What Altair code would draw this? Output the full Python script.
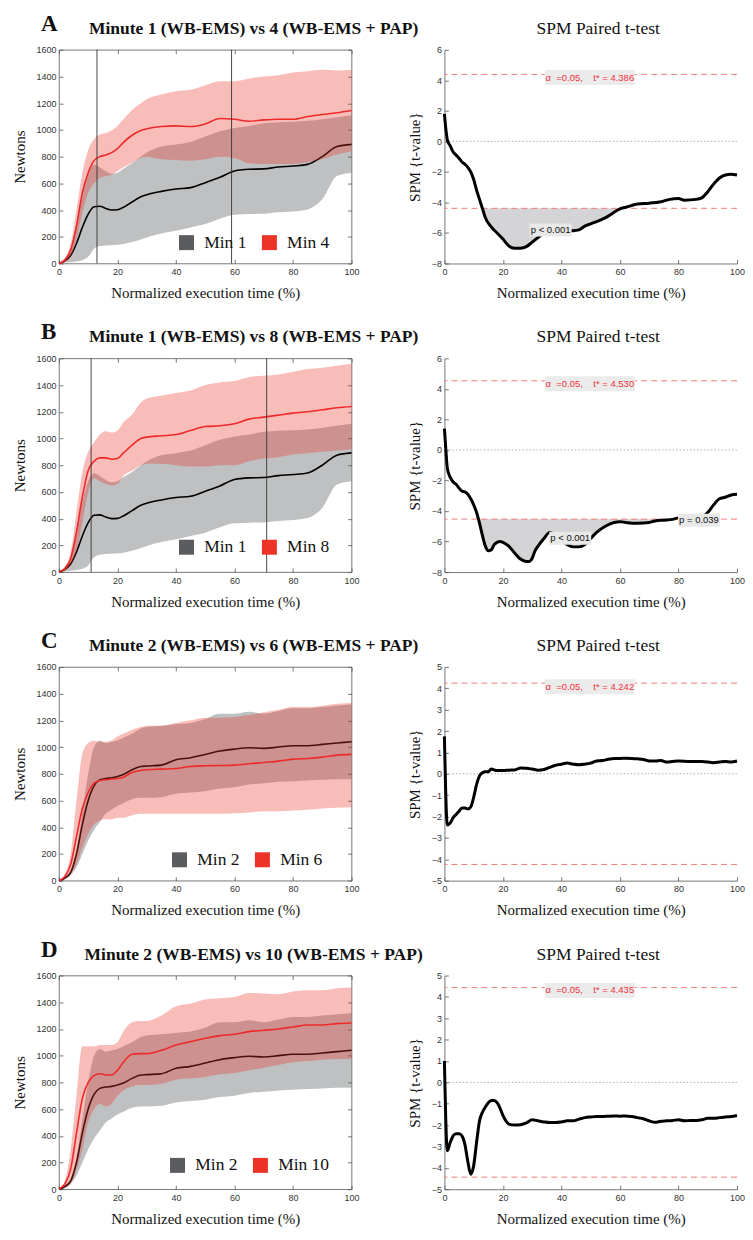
import altair as alt
import pandas as pd

# ---------------- data ----------------
T = [0, 2, 4, 6, 8, 10, 12, 14, 16, 18, 20, 22, 25, 28, 30, 35, 40, 45, 50, 55, 60, 65, 70, 75, 80, 85, 90, 95, 100]

MIN1_MEAN = [0, 20, 60, 150, 270, 370, 425, 428, 412, 400, 402, 420, 460, 500, 515, 540, 558, 568, 605, 645, 693, 705, 708, 722, 730, 742, 800, 875, 892]
MIN1_UP = [0, 40, 110, 300, 520, 680, 740, 720, 690, 672, 680, 710, 750, 800, 830, 875, 890, 910, 950, 990, 1015, 1030, 1050, 1058, 1062, 1068, 1080, 1095, 1110]
MIN1_LO = [0, 5, 10, 15, 25, 50, 110, 130, 135, 137, 140, 145, 160, 180, 195, 225, 245, 270, 295, 335, 365, 370, 372, 383, 390, 405, 480, 655, 680]

MIN4_MEAN = [0, 25, 100, 280, 530, 680, 770, 800, 812, 830, 860, 905, 960, 995, 1008, 1025, 1030, 1025, 1045, 1085, 1080, 1065, 1075, 1080, 1080, 1100, 1115, 1128, 1145]
MIN4_UP = [0, 40, 150, 400, 680, 850, 930, 965, 975, 995, 1030, 1080, 1150, 1200, 1230, 1265, 1290, 1300, 1335, 1365, 1365, 1385, 1400, 1410, 1430, 1440, 1450, 1445, 1450]
MIN4_LO = [0, 10, 50, 180, 380, 530, 600, 640, 655, 665, 690, 720, 755, 790, 800, 780, 775, 770, 780, 800, 790, 750, 745, 745, 745, 760, 780, 815, 840]

MIN8_MEAN = [0, 25, 100, 300, 560, 760, 830, 855, 855, 845, 850, 890, 950, 1000, 1010, 1020, 1030, 1060, 1090, 1095, 1110, 1145, 1160, 1175, 1190, 1200, 1215, 1230, 1240]
MIN8_UP = [0, 40, 150, 450, 750, 900, 970, 1030, 1055, 1045, 1060, 1120, 1180, 1270, 1300, 1320, 1340, 1360, 1400, 1420, 1430, 1460, 1470, 1480, 1500, 1520, 1530, 1545, 1560]
MIN8_LO = [0, 10, 50, 160, 370, 600, 700, 680, 660, 650, 660, 720, 760, 800, 810, 810, 800, 790, 790, 800, 800, 830, 850, 860, 880, 890, 900, 910, 920]

MIN2_MEAN = [0, 20, 60, 200, 420, 600, 710, 755, 765, 770, 780, 795, 830, 855, 858, 865, 905, 920, 945, 970, 985, 995, 990, 1000, 1010, 1010, 1020, 1030, 1040]
MIN2_UP = [0, 30, 80, 230, 520, 800, 1000, 1050, 1030, 1040, 1050, 1070, 1100, 1140, 1150, 1160, 1170, 1180, 1210, 1250, 1250, 1265, 1250, 1270, 1290, 1290, 1300, 1310, 1320]
MIN2_LO = [0, 10, 40, 100, 200, 300, 380, 440, 500, 530, 560, 580, 610, 620, 620, 625, 650, 660, 670, 690, 700, 720, 730, 740, 745, 750, 755, 760, 760]

MIN6_MEAN = [0, 30, 120, 330, 540, 660, 730, 750, 755, 760, 765, 775, 810, 825, 830, 835, 840, 855, 860, 862, 865, 875, 885, 895, 910, 915, 925, 940, 945]
MIN6_UP = [0, 50, 200, 600, 950, 1030, 1050, 1040, 1040, 1050, 1080, 1100, 1130, 1150, 1160, 1160, 1180, 1200, 1220, 1220, 1225, 1240, 1260, 1280, 1300, 1300, 1310, 1325, 1330]
MIN6_LO = [0, 10, 50, 120, 250, 350, 420, 450, 460, 460, 470, 470, 490, 500, 500, 500, 500, 500, 500, 500, 505, 510, 520, 520, 525, 530, 540, 545, 550]

MIN10_MEAN = [0, 40, 150, 420, 680, 800, 850, 865, 855, 855, 890, 950, 1010, 1015, 1015, 1040, 1080, 1105, 1130, 1150, 1160, 1180, 1190, 1200, 1215, 1230, 1230, 1240, 1245]
MIN10_UP = [0, 60, 300, 700, 1070, 1070, 1070, 1080, 1080, 1080, 1100, 1180, 1250, 1260, 1260, 1300, 1370, 1390, 1420, 1430, 1440, 1470, 1465, 1460, 1480, 1490, 1490, 1505, 1510]
MIN10_LO = [0, 10, 40, 150, 300, 500, 600, 640, 620, 640, 700, 740, 770, 780, 780, 790, 820, 830, 840, 860, 870, 890, 910, 930, 950, 960, 970, 975, 975]

# SPM t-curves
A_T = [0, 0.5, 1, 2, 3, 4, 5, 6, 7, 8, 9, 10, 11, 12, 13, 14, 16, 18, 20, 22, 24, 26, 28, 30, 32, 34, 36, 40, 44, 46, 48, 50, 54, 56, 58, 60, 62, 64, 66, 70, 74, 77, 80, 82, 86, 88, 90, 92, 94, 96, 98, 100]
A_V = [1.8, 0.8, 0.1, -0.3, -0.7, -0.9, -1.1, -1.35, -1.5, -1.7, -2.0, -2.5, -3.2, -3.8, -4.4, -5.0, -5.6, -6.0, -6.4, -6.85, -7.0, -7.0, -6.9, -6.6, -6.3, -6.0, -5.9, -5.85, -5.85, -5.8, -5.55, -5.4, -5.1, -4.9, -4.65, -4.42, -4.32, -4.2, -4.1, -4.05, -3.95, -3.8, -3.75, -3.85, -3.8, -3.7, -3.3, -2.8, -2.4, -2.2, -2.15, -2.2]

B_T = [0, 0.5, 1, 2, 3, 4, 5, 6, 7, 8, 9, 10, 11, 12, 13, 14, 15, 16, 17, 18, 19, 20, 22, 24, 26, 28, 29, 30, 31, 32, 34, 36, 38, 40, 42, 44, 46, 48, 50, 52, 55, 58, 60, 62, 64, 66, 70, 72, 75, 78, 80, 82, 86, 90, 92, 94, 96, 98, 100]
B_V = [1.4, 0.0, -1.2, -1.8, -2.1, -2.25, -2.5, -2.7, -2.75, -2.9, -3.2, -3.6, -4.1, -4.8, -5.6, -6.3, -6.6, -6.55, -6.2, -6.05, -6.0, -6.05, -6.3, -6.75, -7.15, -7.3, -7.3, -7.1, -6.6, -6.3, -5.8, -5.4, -5.6, -5.9, -6.2, -6.35, -6.35, -6.2, -5.8, -5.4, -5.0, -4.75, -4.7, -4.75, -4.8, -4.8, -4.75, -4.65, -4.6, -4.55, -4.45, -4.45, -4.5, -4.1, -3.6, -3.2, -3.1, -2.95, -2.9]

C_T = [0, 1, 2, 3, 4, 5, 6, 7, 8, 9, 10, 11, 12, 13, 14, 15, 16, 18, 20, 22, 24, 26, 28, 30, 32, 34, 36, 38, 40, 42, 44, 46, 48, 50, 52, 54, 56, 58, 60, 62, 64, 66, 68, 70, 72, 74, 76, 78, 80, 84, 88, 92, 94, 96, 98, 100]
C_V = [1.75, -2.4, -2.3, -2.05, -1.9, -1.75, -1.6, -1.6, -1.65, -1.55, -1.1, -0.5, -0.1, 0.05, 0.1, 0.1, 0.22, 0.15, 0.15, 0.17, 0.18, 0.27, 0.26, 0.22, 0.17, 0.2, 0.3, 0.4, 0.45, 0.5, 0.45, 0.42, 0.45, 0.5, 0.6, 0.62, 0.68, 0.72, 0.72, 0.73, 0.72, 0.7, 0.67, 0.6, 0.6, 0.62, 0.55, 0.58, 0.6, 0.58, 0.58, 0.52, 0.55, 0.58, 0.55, 0.6]

D_T = [0, 1, 2, 3, 4, 5, 6, 7, 8, 9, 10, 11, 12, 13, 14, 15, 16, 17, 18, 19, 20, 22, 24, 26, 28, 30, 32, 34, 36, 38, 40, 42, 44, 46, 48, 50, 52, 54, 56, 58, 60, 62, 64, 66, 68, 70, 72, 74, 76, 78, 80, 82, 84, 86, 88, 90, 92, 94, 96, 98, 100]
D_V = [1.0, -3.2, -2.8, -2.5, -2.4, -2.4, -2.5, -2.9, -3.7, -4.3, -3.9, -2.8, -1.8, -1.4, -1.15, -0.95, -0.85, -0.85, -0.95, -1.2, -1.55, -1.95, -2.0, -1.98, -1.9, -1.75, -1.8, -1.85, -1.88, -1.88, -1.85, -1.8, -1.8, -1.72, -1.65, -1.62, -1.6, -1.6, -1.58, -1.57, -1.58, -1.57, -1.6, -1.65, -1.7, -1.8, -1.87, -1.82, -1.8, -1.78, -1.75, -1.8, -1.78, -1.78, -1.75, -1.68, -1.68, -1.65, -1.62, -1.6, -1.55]

THRESH = [4.386, 4.530, 4.242, 4.435]
ALPHA_LABEL_Y = [4.18, 4.33, 4.07, 4.30]
ALPHA_LABEL_T = 49.7
VLINES = [[13, 59], [11, 71], [], []]
P_LABELS = [
    [("p < 0.001", 36.3, -5.8)],
    [("p < 0.001", 43.0, -5.78), ("p = 0.039", 87.0, -4.6)],
    [],
    [],
]
LETTERS = ["A", "B", "C", "D"]
TITLES = [
    "Minute 1 (WB-EMS) vs 4 (WB-EMS + PAP)",
    "Minute 1 (WB-EMS) vs 8 (WB-EMS + PAP)",
    "Minute 2 (WB-EMS) vs 6 (WB-EMS + PAP)",
    "Minute 2 (WB-EMS) vs 10 (WB-EMS + PAP)",
]
SERIES = [
    ("Min 1", MIN1_MEAN, MIN1_UP, MIN1_LO, "Min 4", MIN4_MEAN, MIN4_UP, MIN4_LO),
    ("Min 1", MIN1_MEAN, MIN1_UP, MIN1_LO, "Min 8", MIN8_MEAN, MIN8_UP, MIN8_LO),
    ("Min 2", MIN2_MEAN, MIN2_UP, MIN2_LO, "Min 6", MIN6_MEAN, MIN6_UP, MIN6_LO),
    ("Min 2", MIN2_MEAN, MIN2_UP, MIN2_LO, "Min 10", MIN10_MEAN, MIN10_UP, MIN10_LO),
]
SPM = [(A_T, A_V), (B_T, B_V), (C_T, C_V), (D_T, D_V)]
SPM_DOMAIN = [[-8, 6], [-8, 6], [-5, 5], [-5, 5]]
SPM_TICKS = [list(range(-8, 7, 2)), list(range(-8, 7, 2)), list(range(-5, 6)), list(range(-5, 6))]
LEGEND_POS = [(119, 184), (119, 180), (112, 184), (110, 181)]

# ---------------- style ----------------
SERIF = "Liberation Serif"
SANS = "Liberation Sans"
GRAY = "#5b5c60"
RED = "#ec3326"
LINE_RED = "#ee2a2a"
X_TICKS = [0, 20, 40, 60, 80, 100]
N_TICKS = list(range(0, 1601, 200))
W = 293
H = 214
X_TITLE = "Normalized execution time (%)"
BOX_WIDE = "M-1,-0.167L1,-0.167L1,0.167L-1,0.167Z"
BOX_P = "M-1,-0.31L1,-0.31L1,0.31L-1,0.31Z"


def main_x():
    return alt.Axis(orient="bottom", values=X_TICKS, offset=-4, tickSize=4, domain=False, grid=False,
                    labelFlush=False, labelPadding=4, labelFont=SANS, labelFontSize=9, labelColor="#333",
                    tickColor="#555", tickWidth=0.8, title=X_TITLE, titleFont=SERIF, titleFontSize=15,
                    titleFontWeight="normal", titleColor="#111", titlePadding=9, format="d")


def main_y(vals, title, tpad):
    return alt.Axis(orient="left", values=vals, offset=-4, tickSize=4, domain=False, grid=False,
                    labelFlush=False, labelPadding=3, labelFont=SANS, labelFontSize=9, labelColor="#333",
                    tickColor="#555", tickWidth=0.8, title=title, titleFont=SERIF, titleFontSize=15,
                    titleFontWeight="normal", titleColor="#111", titlePadding=tpad, format="d")


def tick_only(orient, vals):
    return alt.Axis(orient=orient, values=vals, offset=-4, tickSize=4, domain=False, grid=False,
                    labels=False, title=None, tickColor="#555", tickWidth=0.8)


def dom_only(orient):
    return alt.Axis(orient=orient, domain=True, domainColor="#777", domainWidth=1, ticks=False,
                    labels=False, grid=False, title=None)


def left_panel(i):
    lab1, m1, u1, l1, lab2, m2, u2, l2 = SERIES[i]
    n = len(T)
    df = pd.DataFrame({"t": T * 2, "mean": m1 + m2, "up": u1 + u2, "lo": l1 + l2,
                       "series": [lab1] * n + [lab2] * n})
    xs = alt.Scale(domain=[0, 100], nice=False, zero=False)
    ys = alt.Scale(domain=[0, 1600], nice=False)
    cs = alt.Scale(domain=[lab1, lab2], range=[GRAY, RED])
    lx, ly = LEGEND_POS[i]
    leg = alt.Legend(orient="none", legendX=lx, legendY=ly, direction="horizontal", title=None,
                     symbolType="square", symbolSize=225, symbolOpacity=1, symbolStrokeWidth=0,
                     labelFont=SERIF, labelFontSize=17.5, labelColor="#111", labelOffset=9,
                     columnPadding=14, padding=0)
    base = alt.Chart(df)
    band1 = base.transform_filter(alt.datum.series == lab1).mark_area(
        opacity=0.39, interpolate="monotone").encode(
        x=alt.X("t:Q", scale=xs, axis=tick_only("top", X_TICKS)),
        y=alt.Y("up:Q", scale=ys, axis=tick_only("right", N_TICKS)),
        y2="lo:Q",
        color=alt.Color("series:N", scale=cs, legend=leg))
    band2 = base.transform_filter(alt.datum.series == lab2).mark_area(
        opacity=0.32, interpolate="monotone").encode(
        x=alt.X("t:Q", scale=xs, axis=None),
        y=alt.Y("up:Q", scale=ys, axis=None),
        y2="lo:Q",
        color=alt.Color("series:N", scale=cs, legend=leg))
    line1 = base.transform_filter(alt.datum.series == lab1).mark_line(
        color="#000", strokeWidth=1.6, interpolate="monotone").encode(
        x=alt.X("t:Q", scale=xs, axis=main_x()),
        y=alt.Y("mean:Q", scale=ys, axis=main_y(N_TICKS, "Newtons", 8)))
    line2 = base.transform_filter(alt.datum.series == lab2).mark_line(
        color=LINE_RED, strokeWidth=1.6, interpolate="monotone").encode(
        x=alt.X("t:Q", scale=xs, axis=None),
        y=alt.Y("mean:Q", scale=ys, axis=None))
    # drawing order: first band, its mean, second band (translucent, over the first mean), second mean
    layers = [band1, line1, band2, line2]
    if VLINES[i]:
        vr = alt.Chart(pd.DataFrame({"t": VLINES[i]})).mark_rule(color="#333", strokeWidth=0.9).encode(
            x=alt.X("t:Q", scale=xs, axis=None))
        layers.append(vr)
    letter = alt.Chart(pd.DataFrame({"s": [LETTERS[i]]})).mark_text(
        font=SERIF, fontSize=23, fontWeight="bold", align="left", baseline="alphabetic", color="#111").encode(
        x=alt.value(-18), y=alt.value(-19), text="s:N")
    ttl = alt.Chart(pd.DataFrame({"s": [TITLES[i]]})).mark_text(
        font=SERIF, fontSize=17.5, fontWeight="bold", align="center", baseline="alphabetic", color="#111").encode(
        x=alt.value(195), y=alt.value(-16), text="s:N")
    layers += [letter, ttl]
    return alt.layer(*layers).resolve_axis(x="independent", y="independent").properties(
        width=W, height=H, view=alt.ViewBackground(stroke="#555", strokeWidth=0.8))


def right_panel(i):
    tt, vv = SPM[i]
    thr = THRESH[i]
    d = pd.DataFrame({"t": tt, "v": vv})
    d["clip"] = d["v"].clip(upper=-thr)
    d["base"] = -thr
    xs = alt.Scale(domain=[0, 100], nice=False, zero=False)
    ys = alt.Scale(domain=SPM_DOMAIN[i], nice=False, zero=False)
    base = alt.Chart(d)
    cluster = base.mark_area(color="#d4d4d6", opacity=1, interpolate="monotone").encode(
        x=alt.X("t:Q", scale=xs, axis=dom_only("bottom")),
        y=alt.Y("clip:Q", scale=ys, axis=dom_only("left")),
        y2="base:Q")
    rules = alt.Chart(pd.DataFrame({"y": [thr, -thr]})).mark_rule(
        color="#f27c7c", strokeDash=[6, 4], strokeWidth=1).encode(
        y=alt.Y("y:Q", scale=ys, axis=None))
    zero = alt.Chart(pd.DataFrame({"y": [0]})).mark_rule(
        color="#999", strokeDash=[1.5, 2], strokeWidth=0.8).encode(
        y=alt.Y("y:Q", scale=ys, axis=None))
    line = base.mark_line(color="#000", strokeWidth=3, interpolate="monotone").encode(
        x=alt.X("t:Q", scale=xs, axis=main_x()),
        y=alt.Y("v:Q", scale=ys, axis=main_y(SPM_TICKS[i], "SPM {t-value}", 9)))
    nb = "\u00a0"
    atext = "\u03b1" + nb * 2 + "=0.05," + nb * 4 + "t* = " + f"{thr:.3f}"
    adf = pd.DataFrame({"t": [ALPHA_LABEL_T], "y": [ALPHA_LABEL_Y[i]], "s": [atext]})
    abox = alt.Chart(adf).mark_point(shape=BOX_WIDE, size=90 ** 2, filled=True, color="#ebebeb",
                                     opacity=1, strokeWidth=0).encode(
        x=alt.X("t:Q", scale=xs, axis=None), y=alt.Y("y:Q", scale=ys, axis=None))
    atxt = alt.Chart(adf).mark_text(font=SANS, fontSize=9.5, color="#f0323c", align="center",
                                    baseline="middle").encode(
        x=alt.X("t:Q", scale=xs, axis=None), y=alt.Y("y:Q", scale=ys, axis=None), text="s:N")
    layers = [cluster, rules, zero, line, abox, atxt]
    if P_LABELS[i]:
        pdf = pd.DataFrame({"s": [p[0] for p in P_LABELS[i]], "t": [p[1] for p in P_LABELS[i]],
                            "y": [p[2] for p in P_LABELS[i]]})
        pbox = alt.Chart(pdf).mark_point(shape=BOX_P, size=42 ** 2, filled=True, color="#e8e8e8",
                                         opacity=1, strokeWidth=0).encode(
            x=alt.X("t:Q", scale=xs, axis=None), y=alt.Y("y:Q", scale=ys, axis=None))
        ptxt = alt.Chart(pdf).mark_text(font=SANS, fontSize=9.5, color="#111", align="center",
                                        baseline="middle").encode(
            x=alt.X("t:Q", scale=xs, axis=None), y=alt.Y("y:Q", scale=ys, axis=None), text="s:N")
        layers += [pbox, ptxt]
    ttl = alt.Chart(pd.DataFrame({"s": ["SPM Paired t-test"]})).mark_text(
        font=SERIF, fontSize=17.5, align="center", baseline="alphabetic", color="#111").encode(
        x=alt.value(154), y=alt.value(-16), text="s:N")
    layers.append(ttl)
    return alt.layer(*layers).resolve_axis(x="independent", y="independent").properties(width=W, height=H)


rows = []
for i in range(4):
    rows.append(alt.hconcat(left_panel(i), right_panel(i), spacing=93, bounds="flush")
                .resolve_scale(color="independent"))

chart = alt.vconcat(*rows, spacing=309, bounds="flush").resolve_scale(color="independent").properties(
    padding={"left": 4, "top": 3, "right": 0, "bottom": 2}
).configure_view(strokeWidth=0)

chart.save("out.html", embed_options={"renderer": "svg", "actions": False})
